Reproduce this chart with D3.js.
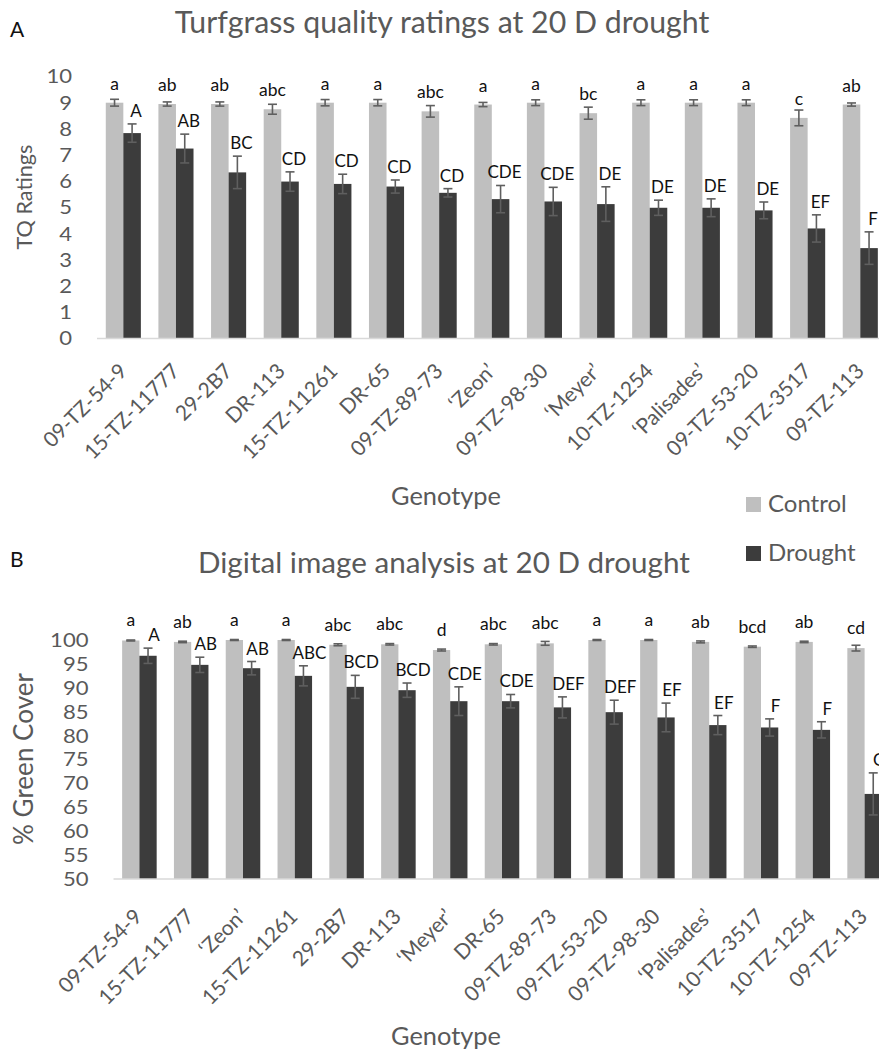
<!DOCTYPE html>
<html>
<head>
<meta charset="utf-8">
<script src="https://cdn.jsdelivr.net/npm/d3@7"></script>
<style>
  body { margin: 0; background: #fff; }
  svg { display: block; }
  text { font-family: Lato, 'Open Sans', sans-serif; }
</style>
</head>
<body>
<svg id="chart" width="879" height="1053"></svg>
<script>
// ---- Panel A: turfgrass quality ratings ----
const genotypesA = ["09-TZ-54-9", "15-TZ-11777", "29-2B7", "DR-113", "15-TZ-11261", "DR-65",
  "09-TZ-89-73", "\u2018Zeon\u2019", "09-TZ-98-30", "\u2018Meyer\u2019", "10-TZ-1254",
  "\u2018Palisades\u2019", "09-TZ-53-20", "10-TZ-3517", "09-TZ-113"];
const controlA = [9.0, 8.95, 8.95, 8.75, 9.0, 9.0, 8.67, 8.93, 9.0, 8.6, 9.0, 9.0, 9.0, 8.42, 8.93];
const controlErrA = [0.13, 0.08, 0.08, 0.19, 0.12, 0.12, 0.22, 0.08, 0.11, 0.23, 0.11, 0.11, 0.11, 0.3, 0.06];
const droughtA = [7.84, 7.25, 6.34, 5.99, 5.90, 5.80, 5.56, 5.32, 5.23, 5.13, 4.99, 4.99, 4.89, 4.20, 3.45];
const droughtErrA = [0.35, 0.55, 0.62, 0.37, 0.37, 0.25, 0.16, 0.52, 0.54, 0.66, 0.29, 0.34, 0.32, 0.52, 0.62];
const controlLettersA = ["a", "ab", "ab", "abc", "a", "a", "abc", "a", "a", "bc", "a", "a", "a", "c", "ab"];
const droughtLettersA = ["A", "AB", "BC", "CD", "CD", "CD", "CD", "CDE", "CDE", "DE", "DE", "DE", "DE", "EF", "F"];
const ticksA = [0, 1, 2, 3, 4, 5, 6, 7, 8, 9, 10];

// ---- Panel B: digital image analysis (% green cover) ----
const genotypesB = ["09-TZ-54-9", "15-TZ-11777", "\u2018Zeon\u2019", "15-TZ-11261", "29-2B7", "DR-113",
  "\u2018Meyer\u2019", "DR-65", "09-TZ-89-73", "09-TZ-53-20", "09-TZ-98-30", "\u2018Palisades\u2019",
  "10-TZ-3517", "10-TZ-1254", "09-TZ-113"];
const controlB = [99.9, 99.6, 100, 100, 99.0, 99.1, 97.9, 99.1, 99.3, 100, 100, 99.6, 98.6, 99.6, 98.3];
const controlErrB = [0.1, 0.15, 0.1, 0.1, 0.2, 0.15, 0.2, 0.15, 0.4, 0.1, 0.1, 0.2, 0.15, 0.15, 0.6];
const droughtB = [96.7, 94.8, 94.1, 92.5, 90.2, 89.5, 87.2, 87.2, 85.9, 84.9, 83.8, 82.2, 81.7, 81.2, 67.8];
const droughtErrB = [1.6, 1.6, 1.4, 2.1, 2.4, 1.5, 3.0, 1.4, 2.2, 2.5, 3.0, 2.0, 1.8, 1.7, 4.4];
const controlLettersB = ["a", "ab", "a", "a", "abc", "abc", "d", "abc", "abc", "a", "a", "ab", "bcd", "ab", "cd"];
const droughtLettersB = ["A", "AB", "AB", "ABC", "BCD", "BCD", "CDE", "CDE", "DEF", "DEF", "EF", "EF", "F", "F", "G"];
const ticksB = [50, 55, 60, 65, 70, 75, 80, 85, 90, 95, 100];

const seriesNames = ["Control", "Drought"];
const seriesColors = ["#bfbfbf", "#3c3c3c"];
const axisGray = "#595959";

const svg = d3.select("#chart");

// scale a text's font size so its rendered length equals `w`
function fitWidth(sel, w) {
  const len = sel.node().getComputedTextLength();
  const fs = parseFloat(sel.attr("font-size"));
  if (len > 0) sel.attr("font-size", (fs * w / len).toFixed(2));
  return sel;
}

function drawPanel(cfg) {
  const g = svg.append("g");
  const x = d3.scaleBand().domain(cfg.genotypes)
    .range([cfg.left, cfg.right]).paddingInner(1 / 3).paddingOuter(1 / 6);
  const y = d3.scaleLinear().domain(cfg.domain).range([cfg.bottom, cfg.top]);
  const bw = x.bandwidth() / 2;

  // panel letter and title
  g.append("text").attr("x", 10).attr("y", cfg.letterY).attr("font-size", 21)
    .attr("fill", "#111").text(cfg.letter);
  fitWidth(g.append("text").attr("x", cfg.titleX).attr("y", cfg.titleY).attr("text-anchor", "middle")
    .attr("font-size", 28).attr("fill", axisGray).text(cfg.title), cfg.titleW);

  // y axis (labels only); digits stretched to a fixed advance
  const yAxis = d3.axisLeft(y).tickValues(cfg.ticks).tickSize(0).tickPadding(25);
  const ya = g.append("g").attr("transform", `translate(${cfg.left},0)`).call(yAxis);
  ya.select(".domain").remove();
  ya.selectAll("text").attr("font-size", 20).attr("fill", axisGray)
    .style("font-family", "Lato, sans-serif")
    .attr("textLength", d => String(d).length * 12.8)
    .attr("lengthAdjust", "spacingAndGlyphs");

  fitWidth(g.append("text")
    .attr("transform", `translate(${cfg.yLabelX},${cfg.yLabelY}) rotate(-90)`)
    .attr("text-anchor", "middle").attr("dy", "0.35em")
    .attr("font-size", 22).attr("fill", axisGray).text(cfg.yLabel), cfg.yLabelW);

  const rows = cfg.genotypes.map((d, i) => ({
    g: d,
    vals: [cfg.control[i], cfg.drought[i]],
    errs: [cfg.controlErr[i], cfg.droughtErr[i]],
    letters: [cfg.controlLetters[i], cfg.droughtLetters[i]]
  }));

  // bars
  const grp = g.selectAll("g.grp").data(rows).join("g").attr("class", "grp")
    .attr("transform", d => `translate(${x(d.g)},0)`);
  grp.selectAll("rect").data(d => d.vals).join("rect")
    .attr("x", (d, j) => j * bw).attr("width", bw)
    .attr("y", d => y(d)).attr("height", d => y(cfg.domain[0]) - y(d))
    .attr("fill", (d, j) => seriesColors[j]);

  // baseline
  g.append("line").attr("x1", cfg.left).attr("x2", cfg.right)
    .attr("y1", y(cfg.domain[0])).attr("y2", y(cfg.domain[0]))
    .attr("stroke", "#d9d9d9").attr("stroke-width", 1.5);

  // error bars and significance letters
  grp.each(function (d) {
    const sel = d3.select(this);
    d.vals.forEach((v, j) => {
      const cx = j * bw + bw / 2;
      const y1 = y(v + d.errs[j]), y2 = y(v - d.errs[j]);
      const eg = sel.append("g").attr("stroke", "#5f5f5f").attr("stroke-width", 1.6);
      eg.append("line").attr("x1", cx).attr("x2", cx).attr("y1", y1).attr("y2", y2);
      eg.append("line").attr("x1", cx - 4.5).attr("x2", cx + 4.5).attr("y1", y1).attr("y2", y1);
      eg.append("line").attr("x1", cx - 4.5).attr("x2", cx + 4.5).attr("y1", y2).attr("y2", y2);
    });
    sel.append("text").attr("x", bw / 2).attr("y", y(d.vals[0]) - cfg.lowerGap)
      .attr("text-anchor", "middle").attr("font-size", 17.5).attr("fill", "#111")
      .text(d.letters[0]);
    sel.append("text").attr("x", bw * 1.5 + cfg.upperShift)
      .attr("y", y(d.vals[1] + d.errs[1]) - cfg.upperGap)
      .attr("text-anchor", "middle").attr("font-size", 17).attr("fill", "#111")
      .text(d.letters[1]);
  });

  // category labels, rotated
  g.selectAll("text.cat").data(cfg.genotypes).join("text").attr("class", "cat")
    .attr("transform", d => `translate(${x(d) + x.bandwidth() / 2 + cfg.catDx},${y(cfg.domain[0]) + cfg.catDy}) rotate(-45)`)
    .attr("text-anchor", "end").attr("font-size", 21).attr("fill", axisGray).text(d => d);

  fitWidth(g.append("text").attr("x", cfg.xLabelX).attr("y", cfg.xLabelY).attr("text-anchor", "middle")
    .attr("font-size", 22).attr("fill", axisGray).text("Genotype"), 110);
}

drawPanel({
  letter: "A", letterY: 37, title: "Turfgrass quality ratings at 20 D drought", titleX: 442, titleY: 33, titleW: 535,
  genotypes: genotypesA, control: controlA, controlErr: controlErrA, drought: droughtA, droughtErr: droughtErrA,
  controlLetters: controlLettersA, droughtLetters: droughtLettersA, ticks: ticksA, domain: [0, 10],
  left: 97, right: 886.6, top: 76.5, bottom: 338.5,
  yLabel: "TQ Ratings", yLabelX: 24, yLabelY: 197, yLabelW: 105,
  lowerGap: 13, upperGap: 7, upperShift: 4, catDx: 5, catDy: 34, xLabelX: 446, xLabelY: 505
});

drawPanel({
  letter: "B", letterY: 567, title: "Digital image analysis at 20 D drought", titleX: 444, titleY: 573, titleW: 492,
  genotypes: genotypesB, control: controlB, controlErr: controlErrB, drought: droughtB, droughtErr: droughtErrB,
  controlLetters: controlLettersB, droughtLetters: droughtLettersB, ticks: ticksB, domain: [50, 100],
  left: 113.5, right: 890.5, top: 640, bottom: 879,
  yLabel: "% Green Cover", yLabelX: 24, yLabelY: 759, yLabelW: 172,
  lowerGap: 14, upperGap: 7, upperShift: 6, catDx: 4, catDy: 39, xLabelX: 446, xLabelY: 1045
});

// legend
const legend = svg.append("g").attr("transform", "translate(746,497)");
const li = legend.selectAll("g").data(seriesNames).join("g")
  .attr("transform", (d, i) => `translate(0,${i * 49})`);
li.append("rect").attr("width", 15).attr("height", 15).attr("fill", (d, i) => seriesColors[i]);
li.append("text").attr("x", 22).attr("y", 14.5)
  .attr("font-size", 24).attr("fill", axisGray).text(d => d);
</script>
</body>
</html>
